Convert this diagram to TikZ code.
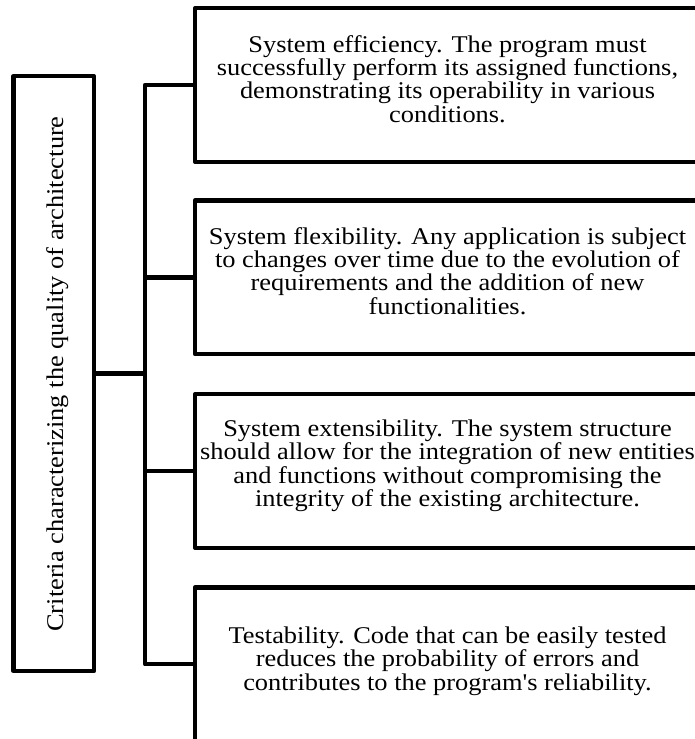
\documentclass[tikz,border=0pt]{standalone}
\usepackage{fontspec}
\setmainfont{Liberation Serif}[Ligatures=TeXOff,FakeStretch=1.1]
\newcommand{\tightlines}{\lineskiplimit=-100pt\relax\lineskip=0pt\relax}
\begin{document}
\begin{tikzpicture}[x=0.75pt,y=-0.75pt,
  frame/.style={draw=black,line width=3.3pt,line join=round,rectangle,inner sep=0pt,outer sep=0pt},
  critbox/.style={frame,minimum width=378.75pt,minimum height=115.1pt},
  link/.style={draw=black,line width=3.3pt,line join=round},
  txt/.style={inner sep=0pt,align=center,font=\fontsize{18}{17.5}\selectfont\tightlines}]
\useasboundingbox (0,0) rectangle (694,739);
% left box
\node[frame,minimum width=60.45pt,minimum height=446pt] (L) at (53.7,373.6) {};
\node[txt,rotate=90,anchor=base] (Lt) at (63,374) {Criteria characterizing the quality of architecture};
% right boxes
\node[critbox] (b1) at (447.5,85) {};
\node[critbox] (b2) at (447.5,277.3) {};
\node[critbox] (b3) at (447.5,471) {};
\node[critbox] (b4) at (447.5,664.2) {};
\node[txt,anchor=north] (t1) at (447.5,35.1) {System efficiency. The program must\\successfully perform its assigned functions,\\demonstrating its operability in various\\conditions.};
\node[txt,anchor=north] (t2) at (447.5,227.1) {System flexibility. Any application is subject\\to changes over time due to the evolution of\\requirements and the addition of new\\functionalities.};
\node[txt,anchor=north] (t3) at (447.5,419.6) {System extensibility. The system structure\\should allow for the integration of new entities\\and functions without compromising the\\integrity of the existing architecture.};
\node[txt,anchor=north] (t4) at (447.5,626.6) {Testability. Code that can be easily tested\\reduces the probability of errors and\\contributes to the program's reliability.};
% connectors
\coordinate (spine) at (145,373.6);
\draw[link] (b1.west) -| (spine) |- (b4.west);
\draw[link] (b2.west) -- (b2.west -| spine);
\draw[link] (b3.west) -- (b3.west -| spine);
\draw[link] (L.east) -- (spine);
\end{tikzpicture}
\end{document}
